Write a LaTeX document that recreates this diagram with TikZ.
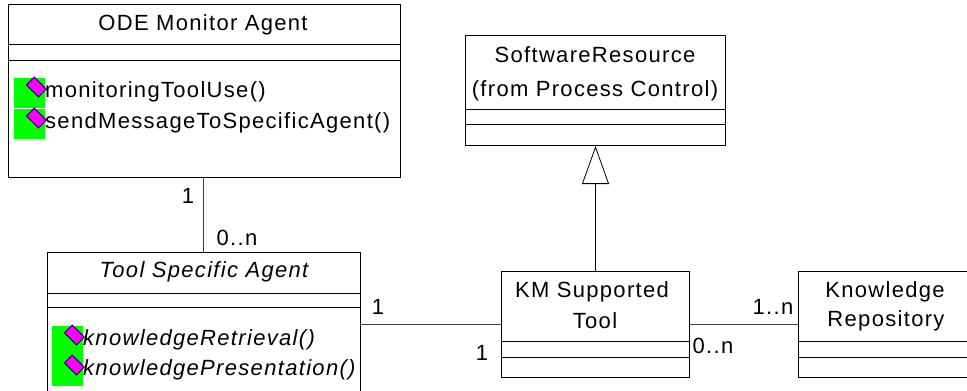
\documentclass[tikz,border=0pt]{standalone}
\usepackage{fontspec}
\setmainfont{Liberation Sans}
\usetikzlibrary{arrows.meta}
\definecolor{icong}{RGB}{0,255,0}
\definecolor{gemc}{RGB}{255,0,255}
\definecolor{gemd}{RGB}{40,0,110}
\tikzset{
  x=1pt,y=-1pt,
  classbox/.style={draw,line width=1pt,anchor=north west,inner sep=0pt,fill=white},
  link/.style={draw,line width=0.8pt,draw=black!75},
  txt/.style={inner sep=0pt,font=\fontsize{22}{26}\selectfont},
  mult/.style={txt},
  icongreen/.style={fill=icong,draw=none,anchor=north west,inner sep=0pt,minimum width=31pt,minimum height=30pt},
  gem/.style={fill=gemc,draw=gemd,line width=1pt,rectangle,rotate=-45,minimum width=17pt,minimum height=11pt,inner sep=0pt},
  sep/.style={line width=0.8pt}
}
\newfontfamily\spc[LetterSpace=6]{Liberation Sans}
\begin{document}
\begin{tikzpicture}
\useasboundingbox (0,0) rectangle (967,391);
\clip (0,0) rectangle (967,391);
% boxes
\node[classbox,minimum width=392pt,minimum height=173pt] (ode) at (8,4) {};
\node[classbox,minimum width=313pt,minimum height=150pt] (tsa) at (47,252) {};
\node[classbox,minimum width=260pt,minimum height=110pt] (soft) at (465,35) {};
\node[classbox,minimum width=188pt,minimum height=106pt] (km) at (501,271) {};
\node[classbox,minimum width=180pt,minimum height=106pt] (kr) at (798,271) {};
% separators
\draw[sep] (ode.west |- 0,44) -- (ode.east |- 0,44) (ode.west |- 0,60) -- (ode.east |- 0,60);
\draw[sep] (tsa.west |- 0,293) -- (tsa.east |- 0,293) (tsa.west |- 0,307) -- (tsa.east |- 0,307);
\draw[sep] (soft.west |- 0,109) -- (soft.east |- 0,109) (soft.west |- 0,124) -- (soft.east |- 0,124);
\draw[sep] (km.west |- 0,341) -- (km.east |- 0,341) (km.west |- 0,357) -- (km.east |- 0,357);
\draw[sep] (kr.west |- 0,341) -- (kr.east |- 0,341) (kr.west |- 0,357) -- (kr.east |- 0,357);
% connectors
\path[link] (203,0 |- ode.south) -- (203,0 |- tsa.north);
\path[link] (tsa.east |- 0,324) -- (km.west |- 0,324);
\path[link] (km.east |- 0,324) -- (kr.west |- 0,324);
\path[link,draw=black,-{Triangle[open,length=38pt,width=27pt,fill=white]}] (km.north) -- (soft.south);
% titles
\node[txt] (t1) at (203,25) {\spc ODE Monitor Agent};
\node[txt] (t2) at (204,272) {\spc\itshape Tool Specific Agent};
\node[txt] (t3) at (595,55) {\spc SoftwareResource};
\node[txt] (t4) at (595,91) {\spc (from Process Control)};
\node[txt] (t5) at (592,292) {\spc KM Supported};
\node[txt] (t6) at (595,321) {\spc Tool};
\node[txt] (t7) at (885,292) {\spc Knowledge};
\node[txt] (t8) at (886,321) {\spc Repository};
% icons
\foreach \n/\x/\y in {a/14/78,b/14/109,c/52/326,d/52/356}{
  \node[icongreen] (g\n) at (\x,\y) {};
  \node[gem] (m\n) at ([xshift=-9pt,yshift=-9pt]g\n.north east) {};
}
% operations
\node[txt,anchor=west] (o1) at (45,92) {\spc monitoringToolUse()};
\node[txt,anchor=west] (o2) at (45,123) {\spc sendMessageToSpecificAgent()};
\node[txt,anchor=west] (o3) at (83,340) {\spc\itshape knowledgeRetrieval()};
\node[txt,anchor=west] (o4) at (83,370) {\spc\itshape knowledgePresentation()};
% multiplicities
\node[mult] (m1) at (188,196) {1};
\node[mult] (m2) at (237,238) {\spc 0..n};
\node[mult] (m3) at (378,307) {1};
\node[mult] (m4) at (482,353) {1};
\node[mult] (m5) at (713,346) {\spc 0..n};
\node[mult] (m6) at (773,307) {\spc 1..n};
\end{tikzpicture}
\end{document}
